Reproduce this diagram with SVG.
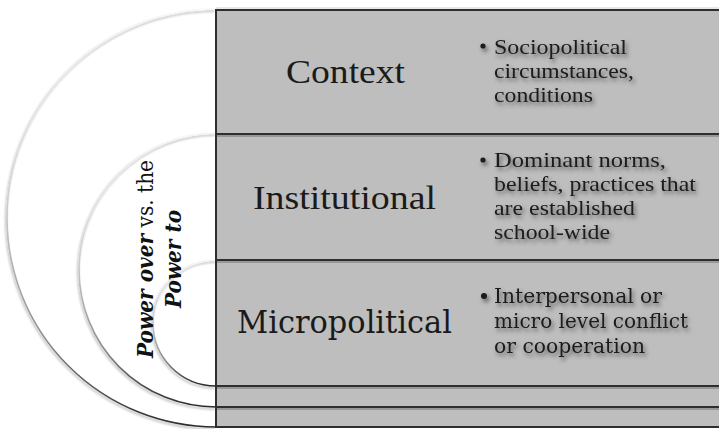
<svg xmlns="http://www.w3.org/2000/svg" width="719" height="429" viewBox="0 0 719 429">
<defs>
<linearGradient id="arcg" x1="0" y1="0" x2="0" y2="1">
<stop offset="0" stop-color="#f6f6f6"/>
<stop offset="0.45" stop-color="#d0d0d0"/>
<stop offset="0.8" stop-color="#8a8a8a"/>
<stop offset="1" stop-color="#2a2a2a"/>
</linearGradient>
<filter id="ashadow" x="-10%" y="-10%" width="120%" height="120%">
<feDropShadow dx="-1" dy="2" stdDeviation="1.2" flood-color="#000" flood-opacity="0.3"/>
</filter>
<filter id="tshadow" x="-10%" y="-20%" width="120%" height="150%">
<feDropShadow dx="2" dy="3" stdDeviation="2" flood-color="#3a3a3a" flood-opacity="0.75"/>
</filter>
</defs>
<style>
.arc{fill:none;stroke:url(#arcg);stroke-width:1.6;filter:url(#ashadow)}
.row{fill:#bebebe;stroke:#2e2e2e;stroke-width:2}
.shade{stroke:#8a8a8a;stroke-width:1.5}
.title{font-family:'Liberation Serif','Times New Roman',Times,serif;font-size:34px;fill:#1a1a1a}
.title2{font-family:'DejaVu Serif',serif;font-size:31px;fill:#1a1a1a}
.bul{font-family:'Liberation Serif','Times New Roman',Times,serif;font-size:22px;fill:#1a1a1a;filter:url(#tshadow)}
.bul2{font-family:'DejaVu Serif',serif;font-size:19.5px;fill:#1a1a1a;filter:url(#tshadow)}
.dot{fill:#1a1a1a}
.pw{font-family:'DejaVu Serif',serif;font-size:23px;fill:#111}
.bi{font-weight:bold;font-style:italic}
</style>
<rect width="719" height="429" fill="#ffffff"/>

<g id="arcs">
<path class="arc" d="M216,9 A209,209 0 0 0 216,427"/>
<path class="arc" d="M216,133 A137,137 0 0 0 216,407"/>
<path class="arc" d="M216,260 A63,63 0 0 0 216,386"/>
</g>

<g id="power-label">
<text class="pw" transform="translate(153,259) rotate(-90)" text-anchor="middle" textLength="198" lengthAdjust="spacingAndGlyphs"><tspan class="bi">Power over</tspan> vs. the</text>
<text class="pw bi" transform="translate(181,259) rotate(-90)" text-anchor="middle" textLength="98" lengthAdjust="spacingAndGlyphs">Power to</text>
</g>

<g id="band2">
<rect class="row" x="216" y="407" width="520" height="20"/>
</g>
<g id="band1">
<rect class="row" x="216" y="386" width="520" height="21"/>
<line class="shade" x1="217" y1="409" x2="719" y2="409"/>
</g>

<g id="micropolitical">
<rect class="row" x="216" y="260" width="520" height="126"/>
<line class="shade" x1="217" y1="388" x2="719" y2="388"/>
<text class="title2" x="237" y="333" textLength="215" lengthAdjust="spacingAndGlyphs">Micropolitical</text>
<g class="bul2">
<circle class="dot" cx="484" cy="296" r="3"/>
<text x="494" y="303" textLength="168" lengthAdjust="spacingAndGlyphs">Interpersonal or</text>
<text x="494" y="328" textLength="194" lengthAdjust="spacingAndGlyphs">micro level conflict</text>
<text x="494" y="353" textLength="151" lengthAdjust="spacingAndGlyphs">or cooperation</text>
</g>
</g>

<g id="institutional">
<rect class="row" x="216" y="134" width="520" height="126"/>
<line class="shade" x1="217" y1="262" x2="719" y2="262"/>
<text class="title" x="253" y="209" textLength="183" lengthAdjust="spacingAndGlyphs">Institutional</text>
<g class="bul">
<circle class="dot" cx="483" cy="160" r="2.6"/>
<text x="494" y="167" textLength="172" lengthAdjust="spacingAndGlyphs">Dominant norms,</text>
<text x="494" y="191" textLength="202" lengthAdjust="spacingAndGlyphs">beliefs, practices that</text>
<text x="494" y="215" textLength="141" lengthAdjust="spacingAndGlyphs">are established</text>
<text x="494" y="239" textLength="116" lengthAdjust="spacingAndGlyphs">school-wide</text>
</g>
</g>

<g id="context">
<rect class="row" x="216" y="10" width="520" height="124"/>
<line class="shade" x1="217" y1="136" x2="719" y2="136"/>
<line x1="216" y1="8" x2="719" y2="8" stroke="#d0d0d0" stroke-width="1"/>
<text class="title" x="286" y="83" textLength="119" lengthAdjust="spacingAndGlyphs">Context</text>
<g class="bul">
<circle class="dot" cx="483" cy="46" r="2.6"/>
<text x="494" y="54" textLength="133" lengthAdjust="spacingAndGlyphs">Sociopolitical</text>
<text x="494" y="78" textLength="140" lengthAdjust="spacingAndGlyphs">circumstances,</text>
<text x="494" y="102" textLength="99" lengthAdjust="spacingAndGlyphs">conditions</text>
</g>
</g>
</svg>
